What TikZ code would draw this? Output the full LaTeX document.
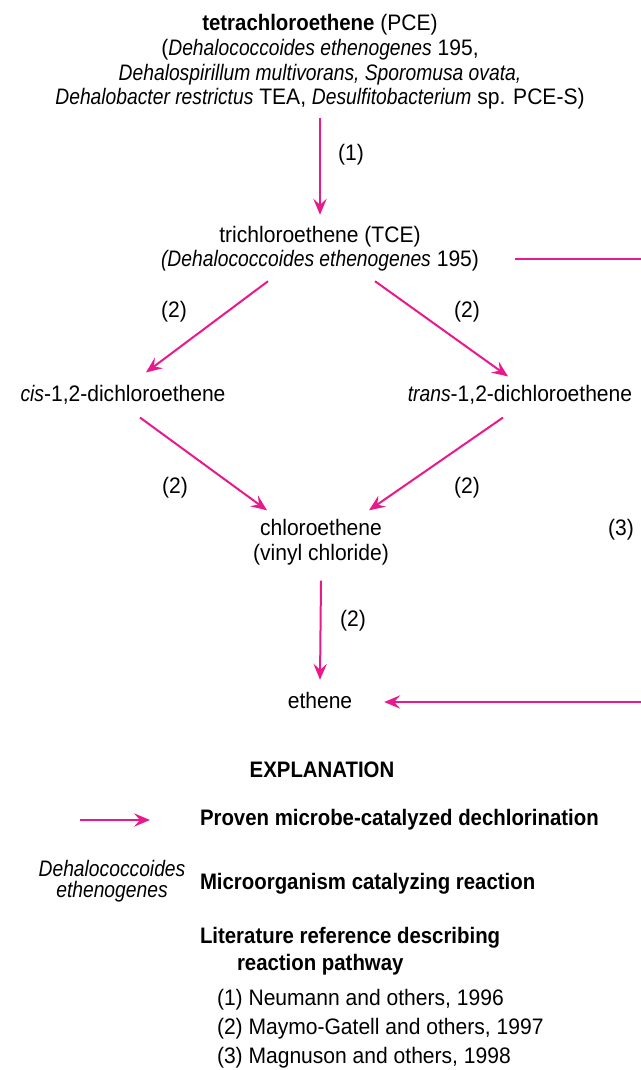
\documentclass[tikz,border=0pt]{standalone}
\usepackage{fontspec}
\setmainfont{Liberation Sans}[UprightFeatures={FakeStretch=0.94}, BoldFeatures={FakeStretch=0.91}, ItalicFeatures={FakeStretch=0.86}]
\usetikzlibrary{arrows.meta,calc}
\definecolor{arrpink}{HTML}{E8198B}
\begin{document}
\begin{tikzpicture}[x=0.75pt,y=-0.75pt,
  every node/.style={inner sep=0pt, outer sep=0pt},
  txt/.style={font=\fontsize{16.8}{18.4}\selectfont, align=center},
  arr/.style={draw=arrpink, line width=1.5pt, -{Stealth[length=12pt,width=10pt,inset=4.5pt]}},
  pline/.style={draw=arrpink, line width=1.5pt}]
\useasboundingbox (0,0) rectangle (641,1070);
% reaction scheme
\node[txt] (pce) at (320,62) {\textbf{tetrachloroethene} (PCE)\\(\textit{Dehalococcoides ethenogenes} 195,\\\textit{Dehalospirillum multivorans, Sporomusa ovata,}\\\textit{Dehalobacter restrictus} TEA, \textit{Desulfitobacterium} sp. PCE-S)};
\node[txt] (r1) at (351,155) {(1)};
\node[txt] (tce) at (320,248.5) {trichloroethene (TCE)\\\textit{(Dehalococcoides ethenogenes} 195)};
\node[txt] (r2a) at (174,312) {(2)};
\node[txt] (r2b) at (467,312) {(2)};
\node[txt] (cis) at (123,395) {\textit{cis}-1,2-dichloroethene};
\node[txt] (trans) at (520,395) {\textit{trans}-1,2-dichloroethene};
\node[txt] (r2c) at (175,488) {(2)};
\node[txt] (r2d) at (467,488) {(2)};
\node[txt] (vc) at (321,542) {chloroethene\\(vinyl chloride)};
\node[txt] (r3) at (621,530) {(3)};
\node[txt] (r2e) at (353,621) {(2)};
\node[txt] (eth) at (320,700) {ethene};
\coordinate (edge1) at (641,259);
\coordinate (edge2) at (641,702);
\draw[arr] ($(pce.south)+(0,9)$) -- ($(tce.north)+(0,-11)$);
\draw[arr] ($(tce.south)+(-52,10)$) -- ($(cis.north)+(23,-13)$);
\draw[arr] ($(tce.south)+(55,10)$) -- ($(trans.north)+(-12,-9)$);
\draw[arr] ($(cis.south)+(17,13)$) -- ($(vc.north)+(-54,-9)$);
\draw[arr] ($(trans.south)+(-17,13)$) -- ($(vc.north)+(48,-9)$);
\draw[arr] ($(vc.south)+(0,16)$) -- ($(eth.north)+(0,-12)$);
\draw[pline] ($(tce.east)+(36,10.5)$) -- (edge1);
\draw[arr] (edge2) -- ($(eth.east)+(32,2)$);
% explanation
\node[txt] (expl) at (322,770) {\textbf{EXPLANATION}};
\coordinate (la1) at (80,820);
\coordinate (la2) at (150,820);
\draw[arr] (la1) -- (la2);
\node[txt, anchor=west] (l1) at (200,820) {\textbf{Proven microbe-catalyzed dechlorination}};
\node[txt, font=\fontsize{16.8}{16}\selectfont] (l2s) at (112,881) {\textit{Dehalococcoides}\\\textit{ethenogenes}};
\node[txt, anchor=west] (l2) at (200,884) {\textbf{Microorganism catalyzing reaction}};
\node[txt, anchor=west] (l3) at (200,938) {\textbf{Literature reference describing}};
\node[txt, anchor=west] (l3b) at (237,965) {\textbf{reaction pathway}};
\node[txt, anchor=west] (ref1) at (217,1000) {(1) Neumann and others, 1996};
\node[txt, anchor=west] (ref2) at (217,1029) {(2) Maymo-Gatell and others, 1997};
\node[txt, anchor=west] (ref3) at (217,1058) {(3) Magnuson and others, 1998};
\end{tikzpicture}
\end{document}
